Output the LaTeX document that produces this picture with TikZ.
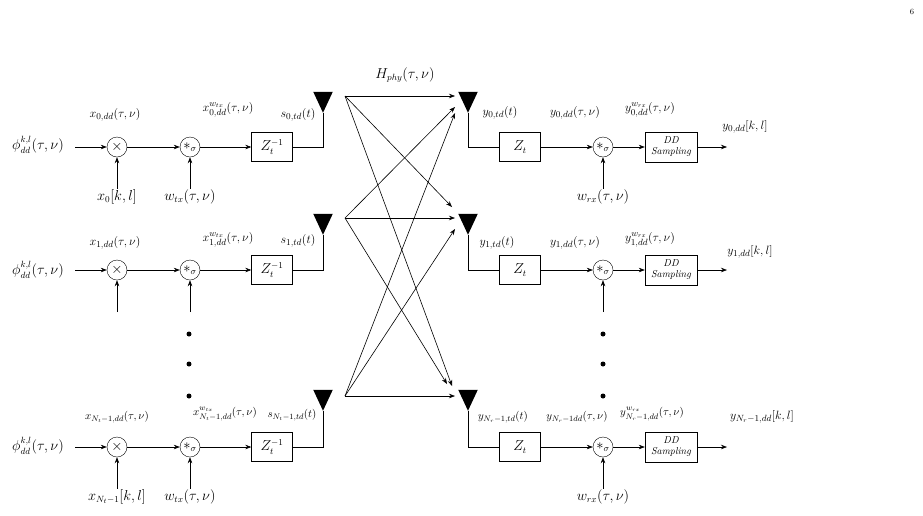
\documentclass[tikz,border=0pt]{standalone}
\usepackage{amsmath}
\usetikzlibrary{arrows.meta,shapes.geometric}
\begin{document}
\begin{tikzpicture}[x=1pt, y=-1pt, font=\fontsize{13.5}{15}\selectfont, inner sep=1pt,
  op/.style = {circle, draw, inner sep=0pt, minimum size=20pt},
  blk/.style = {draw, minimum width=41pt, minimum height=29pt, inner sep=1pt},
  ddblk/.style = {draw, minimum width=52pt, minimum height=30pt, inner sep=1pt, font=\fontsize{10}{11}\selectfont\itshape, align=center},
  sig/.style = {-{Stealth[length=6pt]}, line width=0.6pt},
  lbl/.style = {font=\fontsize{12.5}{14}\selectfont},
  small/.style = {font=\fontsize{11}{13}\selectfont, inner sep=0pt},
  ant/.style = {fill=black, isosceles triangle, isosceles triangle apex angle=50, shape border rotate=-90, inner sep=0pt, minimum width=17pt, minimum height=21pt}]
\useasboundingbox (0,0) rectangle (923,515);

\node at (912,12) {\footnotesize 6};

% transmitter rows
\node (p0) at (38,145) {$\phi^{k,l}_{dd}(\tau,\nu)$};
\node (p1) at (38,270) {$\phi^{k,l}_{dd}(\tau,\nu)$};
\node (p2) at (38,446) {$\phi^{k,l}_{dd}(\tau,\nu)$};
\coordinate (q0) at (75,147);
\coordinate (q1) at (75,270);
\coordinate (q2) at (75,447);
\node[op] (m0) at (117,147) {$\times$};
\node[op] (m1) at (117,270) {$\times$};
\node[op] (m2) at (117,447) {$\times$};
\node[op] (c0) at (190,147) {$*_\sigma$};
\node[op] (c1) at (190,270) {$*_\sigma$};
\node[op] (c2) at (190,447) {$*_\sigma$};
\node[blk] (z0) at (272,147) {$Z_t^{-1}$};
\node[blk] (z1) at (272,270) {$Z_t^{-1}$};
\node[blk] (z2) at (272,447) {$Z_t^{-1}$};
\node[ant] (ta0) at (323,98) {};
\node[ant] (ta1) at (323,220) {};
\node[ant] (ta2) at (323,396) {};

\node (xk0) at (117,197) {$x_0[k,l]$};
\node (wt0) at (190,197) {$w_{tx}(\tau,\nu)$};
\coordinate (xk1) at (117,312);
\coordinate (wt1) at (190,312);
\node (xk2) at (117,497) {$x_{N_t-1}[k,l]$};
\node (wt2) at (190,497) {$w_{tx}(\tau,\nu)$};

\node[lbl] at (115,115) {$x_{0,dd}(\tau,\nu)$};
\node[lbl] at (228,110) {$x^{w_{tx}}_{0,dd}(\tau,\nu)$};
\node[lbl] at (298,115) {$s_{0,td}(t)$};
\node[lbl] at (115,243) {$x_{1,dd}(\tau,\nu)$};
\node[lbl] at (228,240) {$x^{w_{tx}}_{1,dd}(\tau,\nu)$};
\node[lbl] at (298,241) {$s_{1,td}(t)$};
\node[small] at (117,417) {$x_{N_t-1,dd}(\tau,\nu)$};
\node[small] at (225,414) {$x^{w_{tx}}_{N_t-1,dd}(\tau,\nu)$};
\node[small] at (292,415) {$s_{N_t-1,td}(t)$};

% receiver rows
\node[ant] (ra0) at (468,98) {};
\node[ant] (ra1) at (468,220) {};
\node[ant] (ra2) at (468,396) {};
\node[blk] (r0) at (520,147) {$Z_t$};
\node[blk] (r1) at (520,270) {$Z_t$};
\node[blk] (r2) at (520,447) {$Z_t$};
\node[op] (d0) at (603,147) {$*_\sigma$};
\node[op] (d1) at (603,270) {$*_\sigma$};
\node[op] (d2) at (603,447) {$*_\sigma$};
\node[ddblk] (s0) at (671,147) {DD\\Sampling};
\node[ddblk] (s1) at (671,270) {DD\\Sampling};
\node[ddblk] (s2) at (671,447) {DD\\Sampling};
\coordinate (o0) at (727,147);
\coordinate (o1) at (727,270);
\coordinate (o2) at (727,447);
\node (wr0) at (603,197) {$w_{rx}(\tau,\nu)$};
\coordinate (wr1) at (603,312);
\node (wr2) at (603,497) {$w_{rx}(\tau,\nu)$};

\node[lbl] at (500,113) {$y_{0,td}(t)$};
\node[lbl] at (575,113) {$y_{0,dd}(\tau,\nu)$};
\node[lbl] at (650,110) {$y^{w_{rx}}_{0,dd}(\tau,\nu)$};
\node[lbl] at (745,127) {$y_{0,dd}[k,l]$};
\node[lbl] at (497,243) {$y_{1,td}(t)$};
\node[lbl] at (575,243) {$y_{1,dd}(\tau,\nu)$};
\node[lbl] at (650,240) {$y^{w_{rx}}_{1,dd}(\tau,\nu)$};
\node[lbl] at (750,252) {$y_{1,dd}[k,l]$};
\node[small] at (503,417) {$y_{N_r-1,td}(t)$};
\node[small] at (577,417) {$y_{N_r-1dd}(\tau,\nu)$};
\node[small] at (652,414) {$y^{w_{rx}}_{N_r-1,dd}(\tau,\nu)$};
\node[lbl] at (762,417) {$y_{N_r-1,dd}[k,l]$};

\node at (405,75) {$H_{phy}(\tau,\nu)$};

% dots
\foreach \y in {334,364,396} {
  \fill (189,\y) circle (2.5pt);
  \fill (603,\y) circle (2.5pt);
}

% connections
\foreach \i in {0,1,2} {
  \draw[sig] (q\i) -- (m\i);
  \draw[sig] (m\i) -- (c\i);
  \draw[sig] (c\i) -- (z\i);
  \draw[line width=0.6pt] (z\i.east) -| (ta\i.apex);
  \draw[sig] (xk\i) -- (m\i);
  \draw[sig] (wt\i) -- (c\i);
  \draw[line width=0.6pt] (ra\i.apex) |- (r\i.west);
  \draw[sig] (r\i) -- (d\i);
  \draw[sig] (d\i) -- (s\i);
  \draw[sig] (s\i) -- (o\i);
  \draw[sig] (wr\i) -- (d\i);
}

% channel
\coordinate (t0) at (345,96);
\coordinate (t1) at (345,218);
\coordinate (t2) at (345,396);
\draw[sig] (t0) -- (455,96);
\draw[sig] (t0) -- (452,207);
\draw[sig] (t0) -- (452,386);
\draw[sig] (t1) -- (455,107);
\draw[sig] (t1) -- (455,218);
\draw[sig] (t1) -- (447,384);
\draw[sig] (t2) -- (455,113);
\draw[sig] (t2) -- (455,229);
\draw[sig] (t2) -- (455,396);
\end{tikzpicture}
\end{document}
